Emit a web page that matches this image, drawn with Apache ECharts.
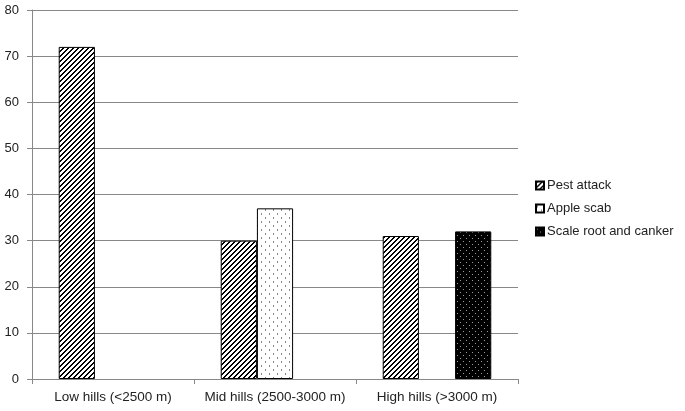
<!DOCTYPE html>
<html>
<head>
<meta charset="utf-8">
<title>Disease incidence by altitude</title>
<script src="https://cdn.jsdelivr.net/npm/echarts@6/dist/echarts.min.js"></script>
<style>
  html, body { margin: 0; padding: 0; background: #fff; }
  #chart { width: 685px; height: 411px; }
</style>
</head>
<body>
<div id="chart"></div>
<script>
// data
var categories = ['Low hills (<2500 m)', 'Mid hills (2500-3000 m)', 'High hills (>3000 m)'];
var seriesNames = ['Pest attack', 'Apple scab', 'Scale root and canker'];
var pestAttack = [72, 30, 31];
var appleScab = [null, 37, null];
var scaleRoot = [null, null, 32];
var yTicks = [0, 10, 20, 30, 40, 50, 60, 70, 80];

// small tiles for the fill patterns
function tile(size, bg, fn) {
    var c = document.createElement('canvas');
    c.width = size; c.height = size;
    var ctx = c.getContext('2d');
    ctx.fillStyle = bg;
    ctx.fillRect(0, 0, size, size);
    fn(ctx);
    return c;
}
// diagonal hatch "/"
var hatch = tile(5, '#fff', function (ctx) {
    ctx.fillStyle = '#000';
    for (var x = 0; x < 5; x++) {
        for (var y = 0; y < 5; y++) {
            if ((x + y) % 5 < 2) ctx.fillRect(x, y, 1, 1);
        }
    }
});
// light dots on white
var dots = tile(8, '#fff', function (ctx) {
    ctx.fillStyle = '#8a8a8a';
    ctx.fillRect(1, 1, 1, 2);
    ctx.fillRect(5, 5, 1, 2);
});
// light dots on black
var darkDots = tile(6, '#000', function (ctx) {
    ctx.fillStyle = '#9a9a9a';
    ctx.fillRect(1, 1, 1, 1);
    ctx.fillRect(4, 4, 1, 1);
});

var myChart = echarts.init(document.getElementById('chart'));
var font = 'Liberation Sans, Arial, sans-serif';

function bar(name, data, img) {
    return {
        name: name,
        type: 'bar',
        data: data,
        barGap: '0%',
        barCategoryGap: '33%',
        itemStyle: {
            color: { image: img, repeat: 'repeat' },
            borderColor: '#000',
            borderWidth: 1
        }
    };
}

myChart.setOption({
    animation: false,
    textStyle: { fontFamily: font },
    grid: { left: 32, right: 167, top: 10, bottom: 32 },
    legend: {
        orient: 'vertical',
        left: 530,
        top: 174,
        itemWidth: 8,
        itemHeight: 8,
        itemGap: 10,
        icon: 'rect',
        textStyle: { fontSize: 13, color: '#222', fontFamily: font, padding: [0, 0, 0, -2] },
        data: seriesNames
    },
    xAxis: {
        type: 'category',
        data: categories,
        axisLine: { lineStyle: { color: '#888', width: 1 } },
        axisTick: { show: true, length: 5, lineStyle: { color: '#888' } },
        axisLabel: { color: '#222', fontSize: 13.5, margin: 11, interval: 0, fontFamily: font }
    },
    yAxis: {
        type: 'value',
        min: yTicks[0],
        max: yTicks[yTicks.length - 1],
        interval: 10,
        axisLine: { show: true, lineStyle: { color: '#888', width: 1 } },
        axisTick: { show: true, length: 5, lineStyle: { color: '#888' } },
        axisLabel: { color: '#222', fontSize: 13, margin: 13, fontFamily: font },
        splitLine: { lineStyle: { color: '#888', width: 1 } }
    },
    series: [
        bar(seriesNames[0], pestAttack, hatch),
        bar(seriesNames[1], appleScab, dots),
        bar(seriesNames[2], scaleRoot, darkDots)
    ]
});
</script>
</body>
</html>
